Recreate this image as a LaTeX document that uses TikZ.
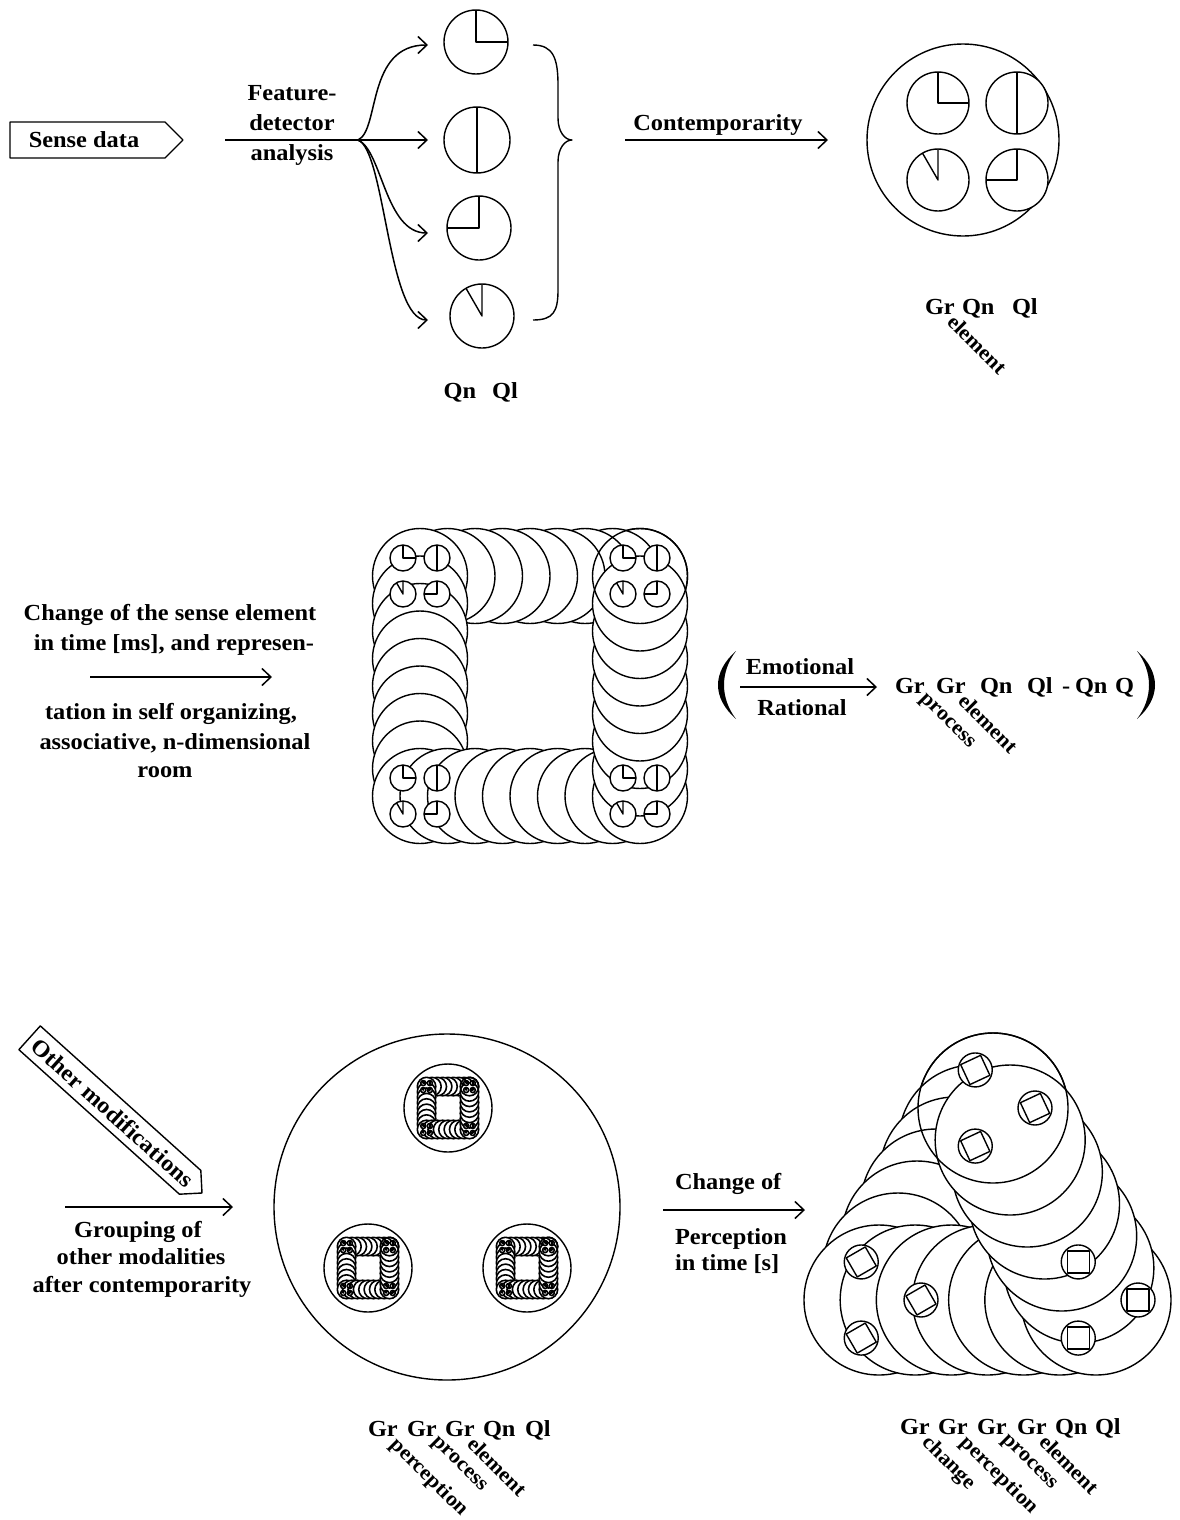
\documentclass[tikz,border=0pt]{standalone}
\usepackage{fontspec}
\setmainfont{Liberation Serif}[FakeStretch=1.06]
\usetikzlibrary{arrows.meta,calc}
\tikzset{
  lbl/.style={font=\fontsize{23}{30}\selectfont\bfseries, inner sep=0pt, outer sep=0pt},
  sublbl/.style={font=\fontsize{21}{26}\selectfont\bfseries, inner sep=0pt, outer sep=0pt},
  arr/.style={line width=1.5pt, -{Straight Barb[length=9pt,width=17pt,line width=1.5pt]}},
}
\newcommand\pieglyph[4]{%
  \begin{scope}[shift={(#1,#2)}]
    \draw[fill=white] (0,0) circle[radius=#3pt];
    \ifcase#4\relax
      \draw (90:#3pt) -- (0,0) -- (0:#3pt);
    \or
      \draw (90:#3pt) -- (-90:#3pt);
    \or
      \draw (90:#3pt) -- (0,0) -- (180:#3pt);
    \or
      \draw (90:#3pt) -- (0,0) -- (120:#3pt);
    \fi
  \end{scope}}
\newcommand\squarering{%
  \foreach \i in {0,...,7}{\draw[fill=white] (110-27.5*\i,-110) circle[radius=47.5pt];}
  \foreach \i in {0,...,7}{\draw[fill=white] (-110,-110+27.5*\i) circle[radius=47.5pt];}
  \foreach \i in {0,...,7}{\draw[fill=white] (-110+27.5*\i,110) circle[radius=47.5pt];}
  \foreach \i in {0,...,7}{\draw[fill=white] (110,110-27.5*\i) circle[radius=47.5pt];}
  \draw (110,-110) circle[radius=47.5pt];
  \foreach \cx/\cy in {110/-110,-110/-110,-110/110,110/110}{%
    \pieglyph{\cx-17}{\cy-18}{13}{0}%
    \pieglyph{\cx+17}{\cy-18}{13}{1}%
    \pieglyph{\cx-17}{\cy+18}{13}{3}%
    \pieglyph{\cx+17}{\cy+18}{13}{2}%
  }%
}
\newcommand\subl[2]{\node[sublbl, rotate=-45, anchor=north west] (#1s) at ($(#1.base east)+(2,-1)$) {#2};}
\begin{document}
\begin{tikzpicture}[x=1pt,y=-1pt,line width=1.4pt,line join=round]
\fill[white] (0,0) rectangle (1179,1520);
\useasboundingbox (0,0) rectangle (1179,1520);

% ---------------- top ----------------
\draw (10,122) -- (165,122) -- (183,140) -- (165,158) -- (10,158) -- cycle;
\node[lbl, anchor=base] (sense) at (84,147) {Sense data};
\node[lbl, anchor=base] (f1) at (292,100) {Feature-};
\node[lbl, anchor=base] (f2) at (292,130) {detector};
\node[lbl, anchor=base] (f3) at (292,160) {analysis};
\coordinate (fa) at (225,140);
\coordinate (fb) at (358,140);
\coordinate (e1) at (428,45);
\coordinate (e2) at (428,140);
\coordinate (e3) at (428,233);
\coordinate (e4) at (428,320);
\draw[arr] (fa) -- (e2);
\draw[arr] (fb) .. controls (380,130) and (366,45) .. (e1);
\draw[arr] (fb) .. controls (382,150) and (385,233) .. (e3);
\draw[arr] (fb) .. controls (385,150) and (388,320) .. (e4);
\pieglyph{476}{42}{32}{0}
\pieglyph{477}{140}{33}{1}
\pieglyph{479}{228}{32}{2}
\pieglyph{482}{316}{32}{3}
\draw (533,45) .. controls (553,45) and (558,58) .. (558,85) -- (558,118)
      .. controls (558,132) and (565,140) .. (572,140)
      .. controls (565,140) and (558,148) .. (558,162) -- (558,290)
      .. controls (558,312) and (553,320) .. (533,320);
\node[lbl, anchor=base] (qn1) at (460,398) {Qn};
\node[lbl, anchor=base] (ql1) at (505,398) {Ql};

\coordinate (ca) at (625,140);
\coordinate (cb) at (828,140);
\draw[arr] (ca) -- (cb);
\node[lbl, anchor=base] (cont) at (718,130) {Contemporarity};
\draw (963,140) circle[radius=96pt];
\pieglyph{938}{103}{31}{0}
\pieglyph{1017}{103}{31}{1}
\pieglyph{938}{180}{31}{3}
\pieglyph{1017}{180}{31}{2}
\node[lbl, anchor=base west] (tg) at (925,314) {Gr};
\node[lbl, anchor=base west] (tqn) at (962,314) {Qn};
\node[lbl, anchor=base west] (tql) at (1012,314) {Ql};
\subl{tg}{element}

% ---------------- middle ----------------
\node[lbl, anchor=base] (m1) at (170,620) {Change of the sense element};
\node[lbl, anchor=base] (m2) at (174,650) {in time [ms], and represen-};
\coordinate (ma) at (90,677);
\coordinate (mb) at (272,677);
\draw[arr] (ma) -- (mb);
\node[lbl, anchor=base] (m3) at (171,719) {tation in self organizing,};
\node[lbl, anchor=base] (m4) at (175,749) {associative, n-dimensional};
\node[lbl, anchor=base] (m5) at (165,777) {room};
\begin{scope}[shift={(530,686)}]
  \squarering
\end{scope}
\fill (736,651) .. controls (712,672) and (712,698) .. (736,719)
      .. controls (720,698) and (720,672) .. (736,651) -- cycle;
\fill (1137,651) .. controls (1161,672) and (1161,698) .. (1137,719)
      .. controls (1153,698) and (1153,672) .. (1137,651) -- cycle;
\node[lbl, anchor=base] (emo) at (800,674) {Emotional};
\node[lbl, anchor=base] (rat) at (802,715) {Rational};
\coordinate (ea) at (740,687);
\coordinate (eb) at (877,687);
\draw[arr] (ea) -- (eb);
\node[lbl, anchor=base west] (mg1) at (895,693) {Gr};
\node[lbl, anchor=base west] (mg2) at (936,693) {Gr};
\node[lbl, anchor=base west] (mq1) at (980,693) {Qn};
\node[lbl, anchor=base west] (mq2) at (1027,693) {Ql};
\node[lbl, anchor=base west] (mdash) at (1062,693) {-};
\node[lbl, anchor=base west] (mq3) at (1075,693) {Qn};
\node[lbl, anchor=base west] (mq4) at (1115,693) {Q};
\subl{mg1}{process}
\subl{mg2}{element}

% ---------------- bottom ----------------
\begin{scope}[shift={(202,1193)}, rotate=-42]
  \draw (0,0) -- (-16,-16) -- (-232,-16) -- (-232,16) -- (-16,16) -- cycle;
  \node[lbl, rotate=-42] (om) at (-120,0) {Other modifications};
\end{scope}
\coordinate (ga) at (65,1207);
\coordinate (gb) at (233,1207);
\draw[arr] (ga) -- (gb);
\node[lbl, anchor=base] (b1) at (138,1237) {Grouping of};
\node[lbl, anchor=base] (b2) at (141,1264) {other modalities};
\node[lbl, anchor=base] (b3) at (142,1292) {after contemporarity};

\draw (447,1207) circle[radius=173pt];
\foreach \px/\py in {448/1108, 368/1268, 527/1268}{
  \draw (\px,\py) circle[radius=44pt];
  \begin{scope}[shift={(\px,\py)}, scale=0.195, line width=1.6pt]
    \squarering
  \end{scope}
}

\coordinate (pa) at (663,1210);
\coordinate (pb) at (805,1210);
\draw[arr] (pa) -- (pb);
\node[lbl, anchor=base west] (p1) at (675,1189) {Change of};
\node[lbl, anchor=base west] (p2) at (675,1244) {Perception};
\node[lbl, anchor=base west] (p3) at (675,1270) {in time [s]};

\coordinate (T) at (993,1108);
\coordinate (BL) at (879,1300);
\coordinate (BR) at (1096,1300);
\foreach \i in {0,...,5}{\draw[fill=white] ($(T)!\i/6!(BL)$) circle[radius=75pt];}
\foreach \i in {0,...,5}{\draw[fill=white] ($(BL)!\i/6!(BR)$) circle[radius=75pt];}
\foreach \i in {0,...,5}{\draw[fill=white] ($(BR)!\i/6!(T)$) circle[radius=75pt];}
\draw (T) circle[radius=75pt];
\foreach \c/\r in {T/25,BL/30,BR/0}{
  \foreach \a in {115,0,-115}{
    \draw[fill=white] ($(\c)+(\a:42pt)$) circle[radius=17pt];
    \node[draw, minimum size=22pt, inner sep=0pt, rotate=\r] (sq\c\a) at ($(\c)+(\a:42pt)$) {};
  }
}

\node[lbl, anchor=base west] (lg1) at (368,1436) {Gr};
\node[lbl, anchor=base west] (lg2) at (407,1436) {Gr};
\node[lbl, anchor=base west] (lg3) at (445,1436) {Gr};
\node[lbl, anchor=base west] (lqn) at (483,1436) {Qn};
\node[lbl, anchor=base west] (lql) at (525,1436) {Ql};
\subl{lg1}{perception}
\subl{lg2}{process}
\subl{lg3}{element}

\node[lbl, anchor=base west] (rg1) at (900,1434) {Gr};
\node[lbl, anchor=base west] (rg2) at (938,1434) {Gr};
\node[lbl, anchor=base west] (rg3) at (977,1434) {Gr};
\node[lbl, anchor=base west] (rg4) at (1017,1434) {Gr};
\node[lbl, anchor=base west] (rqn) at (1055,1434) {Qn};
\node[lbl, anchor=base west] (rql) at (1095,1434) {Ql};
\subl{rg1}{change}
\subl{rg2}{perception}
\subl{rg3}{process}
\subl{rg4}{element}
\end{tikzpicture}
\end{document}
